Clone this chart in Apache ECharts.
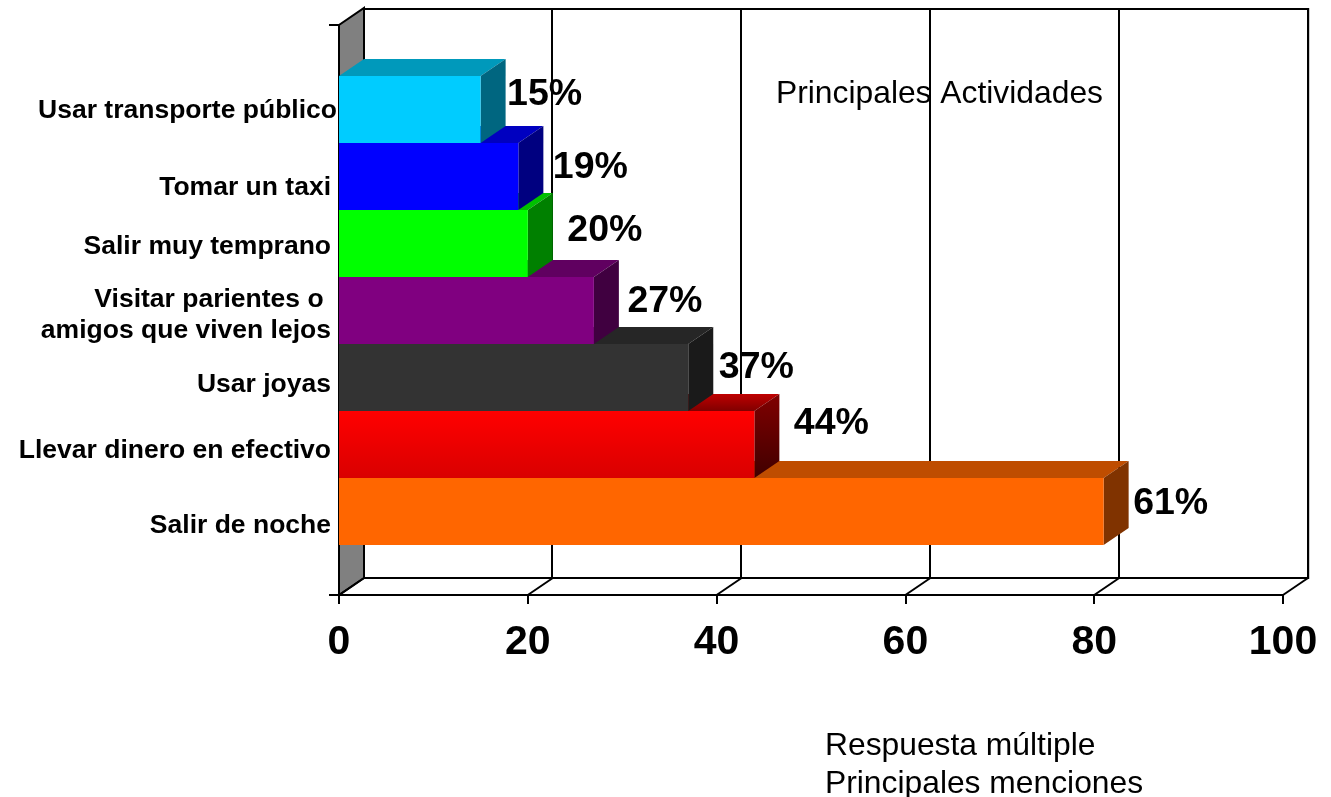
<!DOCTYPE html>
<html>
<head>
<meta charset="utf-8">
<script src="https://cdn.jsdelivr.net/npm/echarts@6/dist/echarts.min.js"></script>
<style>html,body{margin:0;padding:0;background:#fff}#c{width:1331px;height:797px}</style>
</head>
<body>
<div id="c"></div>
<script>
// bottom bar first: the axis grows upward and this is also the painting order
var categories = ['Salir de noche','Llevar dinero en efectivo','Usar joyas','Visitar parientes o \namigos que viven lejos','Salir muy temprano','Tomar un taxi','Usar transporte público'];
var barValues = [81,44,37,27,20,19,15];
var valueLabels = ['61%','44%','37%','27%','20%','19%','15%'];
var xTicks = [0,20,40,60,80,100];

// styling, per bar in the same order
var frontColors = [
  '#ff6600',
  {type:'linear',x:0,y:0,x2:0,y2:1,colorStops:[{offset:0,color:'#ff0000'},{offset:1,color:'#d90000'}]},
  '#333333','#800080','#00ff00','#0000ff','#00ccff'];
var topColors = [
  '#bf4d00',
  {type:'linear',x:0,y:0,x2:0,y2:1,colorStops:[{offset:0,color:'#bf0000'},{offset:1,color:'#800000'}]},
  '#262626','#600060','#00c000','#0000c0','#0099bb'];
var sideColors = [
  '#803300',
  {type:'linear',x:0,y:0,x2:0,y2:1,colorStops:[{offset:0,color:'#800000'},{offset:1,color:'#400000'}]},
  '#1a1a1a','#400040','#008000','#000080','#006680'];
var labelDx = [4.5,14.5,5.5,8.5,14.5,9.5,1.5];
var labelY = [504,424,368,302,231,168,95];
var catDy = [14,6,7,5,3,11,1.5];

var DX = 25, DY = -17;
var FONT = '"Liberation Sans", Arial, sans-serif';
var AX = {show:false};
var LH = 31;

function catData() {
  return categories.map(function (c, i) {
    var block = LH * c.split('\n').length;
    return {value:c, textStyle:{verticalAlign:'top',padding:[catDy[i]-block/2,i===6?0:6,0,0]}};
  });
}

var option = {
  animation:false,
  backgroundColor:'#fff',
  title:[
    {text:'Principales Actividades',left:776,top:78,padding:0,textStyle:{fontFamily:FONT,fontSize:31.8,fontWeight:'normal',color:'#000'}},
    {text:'Respuesta múltiple',left:825,top:730,padding:0,textStyle:{fontFamily:FONT,fontSize:31.8,fontWeight:'normal',color:'#000'}},
    {text:'Principales menciones',left:825,top:768,padding:0,textStyle:{fontFamily:FONT,fontSize:31.8,fontWeight:'normal',color:'#000'}}
  ],
  grid:[
    {left:339,width:944,top:25,height:570},
    {left:339,width:944,top:76,height:469},
    {left:363,width:945.2,top:9,height:569,show:true,borderColor:'#000',borderWidth:2,backgroundColor:'transparent'}
  ],
  xAxis:[
    {gridIndex:0,type:'value',min:0,max:100,interval:20,splitLine:AX,
     axisLine:{show:true,lineStyle:{color:'#000',width:2}},
     axisTick:{show:true,length:9,lineStyle:{color:'#000',width:2}},
     axisLabel:{show:true,margin:27,fontFamily:FONT,fontWeight:'bold',fontSize:41,color:'#000',hideOverlap:false,showMinLabel:true,showMaxLabel:true}},
    {gridIndex:1,type:'value',min:0,max:100,show:false,splitLine:AX},
    {gridIndex:2,type:'value',min:0,max:100,interval:20,
     axisLine:AX,axisTick:AX,axisLabel:AX,
     splitLine:{show:true,lineStyle:{color:'#000',width:2}}}
  ],
  yAxis:[
    {gridIndex:0,type:'value',min:0,max:1,interval:1,splitLine:AX,axisLabel:AX,
     axisLine:{show:true,lineStyle:{color:'#000',width:2}},
     axisTick:{show:true,length:10,lineStyle:{color:'#000',width:2}}},
    {gridIndex:1,type:'category',data:catData(),
     axisLine:AX,axisTick:AX,splitLine:AX,
     axisLabel:{show:true,interval:0,margin:2,align:'right',fontFamily:FONT,fontWeight:'bold',fontSize:26.5,lineHeight:LH,color:'#000'}},
    {gridIndex:2,type:'value',min:0,max:1,show:false,splitLine:AX}
  ],
  series:[
    {
      // grey side wall and the floor's diagonal lines
      type:'custom',xAxisIndex:0,yAxisIndex:0,clip:false,z:1,silent:true,
      data:xTicks.map(function (t) { return [t]; }),
      renderItem:function (params, api) {
        var p = api.coord([api.value(0),0]);
        var kids = [{type:'line',shape:{x1:p[0],y1:p[1],x2:p[0]+DX,y2:p[1]+DY},style:{stroke:'#000',lineWidth:2}}];
        if (params.dataIndex === 0) {
          var t = api.coord([0,1]);
          kids.unshift({type:'polygon',shape:{points:[[p[0],p[1]],[t[0],t[1]],[t[0]+DX,t[1]+DY],[p[0]+DX,p[1]+DY]]},style:{fill:'#808080',stroke:'#000',lineWidth:2}});
        }
        return {type:'group',children:kids};
      }
    },
    {
      // 3D bars and value labels
      type:'custom',xAxisIndex:1,yAxisIndex:1,clip:false,z:3,silent:true,
      encode:{x:0,y:1},
      data:barValues.map(function (v, i) { return [v, i]; }),
      renderItem:function (params, api) {
        var i = params.dataIndex;
        var c = api.coord([api.value(0),api.value(1)]);
        var o = api.coord([0,api.value(1)]);
        var h = api.size([0,1])[1];
        var x0 = o[0], x1 = c[0], y0 = c[1]-h/2, y1 = c[1]+h/2;
        return {type:'group',children:[
          {type:'polygon',shape:{points:[[x0,y0],[x1,y0],[x1+DX,y0+DY],[x0+DX,y0+DY]]},style:{fill:topColors[i]}},
          {type:'polygon',shape:{points:[[x1,y0],[x1+DX,y0+DY],[x1+DX,y1+DY],[x1,y1]]},style:{fill:sideColors[i]}},
          {type:'rect',shape:{x:x0,y:y0,width:x1-x0,height:h},style:{fill:frontColors[i]}},
          {type:'text',z2:10,style:{text:valueLabels[i],x:x1+DX+labelDx[i],y:labelY[i],textAlign:'left',textVerticalAlign:'middle',font:'bold 37.5px '+FONT,fill:'#000'}}
        ]};
      }
    }
  ]
};
var chart = echarts.init(document.getElementById('c'),null,{renderer:'canvas'});
chart.setOption(option);
</script>
</body>
</html>
